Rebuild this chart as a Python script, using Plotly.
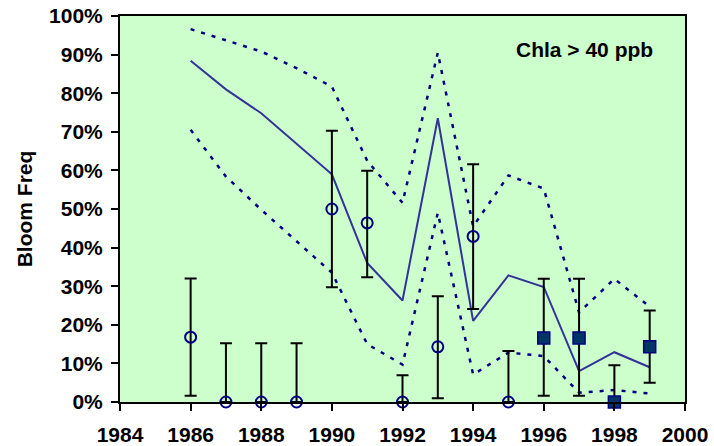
import plotly.graph_objects as go

years = list(range(1986, 2000))
trend = [88.4, 81.0, 74.8, 67.0, 59.0, 36.0, 26.3, 73.5, 21.0, 32.8, 29.8, 8.0, 12.9, 9.0]
upper = [96.6, 93.8, 90.8, 86.5, 81.7, 62.5, 51.6, 90.5, 45.5, 58.7, 55.3, 23.2, 31.9, 24.7]
lower = [70.5, 58.4, 49.8, 41.6, 33.5, 15.0, 9.7, 49.0, 7.1, 12.8, 11.9, 2.4, 3.1, 2.2]

obs_years_a = list(range(1986, 1996))
obs_a = [16.8, 0, 0, 0, 50.0, 46.4, 0, 14.3, 42.9, 0]
obs_a_hi = [32.0, 15.2, 15.2, 15.2, 70.3, 59.9, 6.9, 27.4, 61.6, 13.2]
obs_a_lo = [1.6, 0, 0, 0, 29.7, 32.3, 0, 0.95, 24.1, 0]

obs_years_b = [1996, 1997, 1998, 1999]
obs_b = [16.6, 16.6, 0, 14.3]
obs_b_hi = [31.9, 31.9, 9.5, 23.7]
obs_b_lo = [1.6, 1.6, 0, 5.0]

FONT = "Liberation Sans, Arial, sans-serif"
FS = 21

fig = go.Figure()
dash = "4px,7px"
fig.add_trace(go.Scatter(x=years, y=upper, mode="lines",
                         line=dict(color="#000080", width=2.5, dash=dash)))
fig.add_trace(go.Scatter(x=years, y=lower, mode="lines",
                         line=dict(color="#000080", width=2.5, dash=dash)))
fig.add_trace(go.Scatter(x=years, y=trend, mode="lines",
                         line=dict(color="#333399", width=2)))

fig.add_trace(go.Scatter(
    x=obs_years_a, y=obs_a, mode="markers", cliponaxis=False,
    marker=dict(symbol="circle-open", size=11, color="#000080", line=dict(width=2, color="#000080")),
    error_y=dict(type="data", symmetric=False,
                 array=[h - v for h, v in zip(obs_a_hi, obs_a)],
                 arrayminus=[v - l for l, v in zip(obs_a_lo, obs_a)],
                 color="black", thickness=2, width=6)))
fig.add_trace(go.Scatter(
    x=obs_years_b, y=obs_b, mode="markers", cliponaxis=False,
    marker=dict(symbol="square", size=12, color="#003366", line=dict(width=1.5, color="#000080")),
    error_y=dict(type="data", symmetric=False,
                 array=[h - v for h, v in zip(obs_b_hi, obs_b)],
                 arrayminus=[v - l for l, v in zip(obs_b_lo, obs_b)],
                 color="black", thickness=2, width=6)))

fig.add_annotation(x=0.823, y=0.912, xref="paper", yref="paper", xanchor="center", yanchor="middle",
                   text="<b>Chla > 40 ppb</b>", showarrow=False,
                   font=dict(family=FONT, size=FS, color="black"))

fig.update_layout(
    width=714, height=446,
    margin=dict(l=120, r=29, t=16, b=44),
    paper_bgcolor="white", plot_bgcolor="#CCFFCC",
    showlegend=False,
    font=dict(family=FONT, size=FS, color="black"),
)
fig.update_xaxes(range=[1984, 2000], tick0=1984, dtick=2, showgrid=False, zeroline=False,
                 showline=True, linecolor="black", linewidth=2, mirror=True, automargin=False,
                 ticks="outside", ticklen=7, tickwidth=2, tickcolor="black", ticklabelstandoff=6,
                 tickfont=dict(family=FONT, size=FS, weight="bold"))
fig.update_yaxes(range=[0, 100], tick0=0, dtick=10, ticksuffix="%", showgrid=False, zeroline=False,
                 showline=True, linecolor="black", linewidth=2, mirror=True, automargin=False,
                 ticks="outside", ticklen=7, tickwidth=2, tickcolor="black", ticklabelstandoff=4,
                 tickfont=dict(family=FONT, size=FS, weight="bold"),
                 title=dict(text="<b>Bloom Freq</b>", font=dict(family=FONT, size=FS), standoff=11))

fig.write_html("out.html")
